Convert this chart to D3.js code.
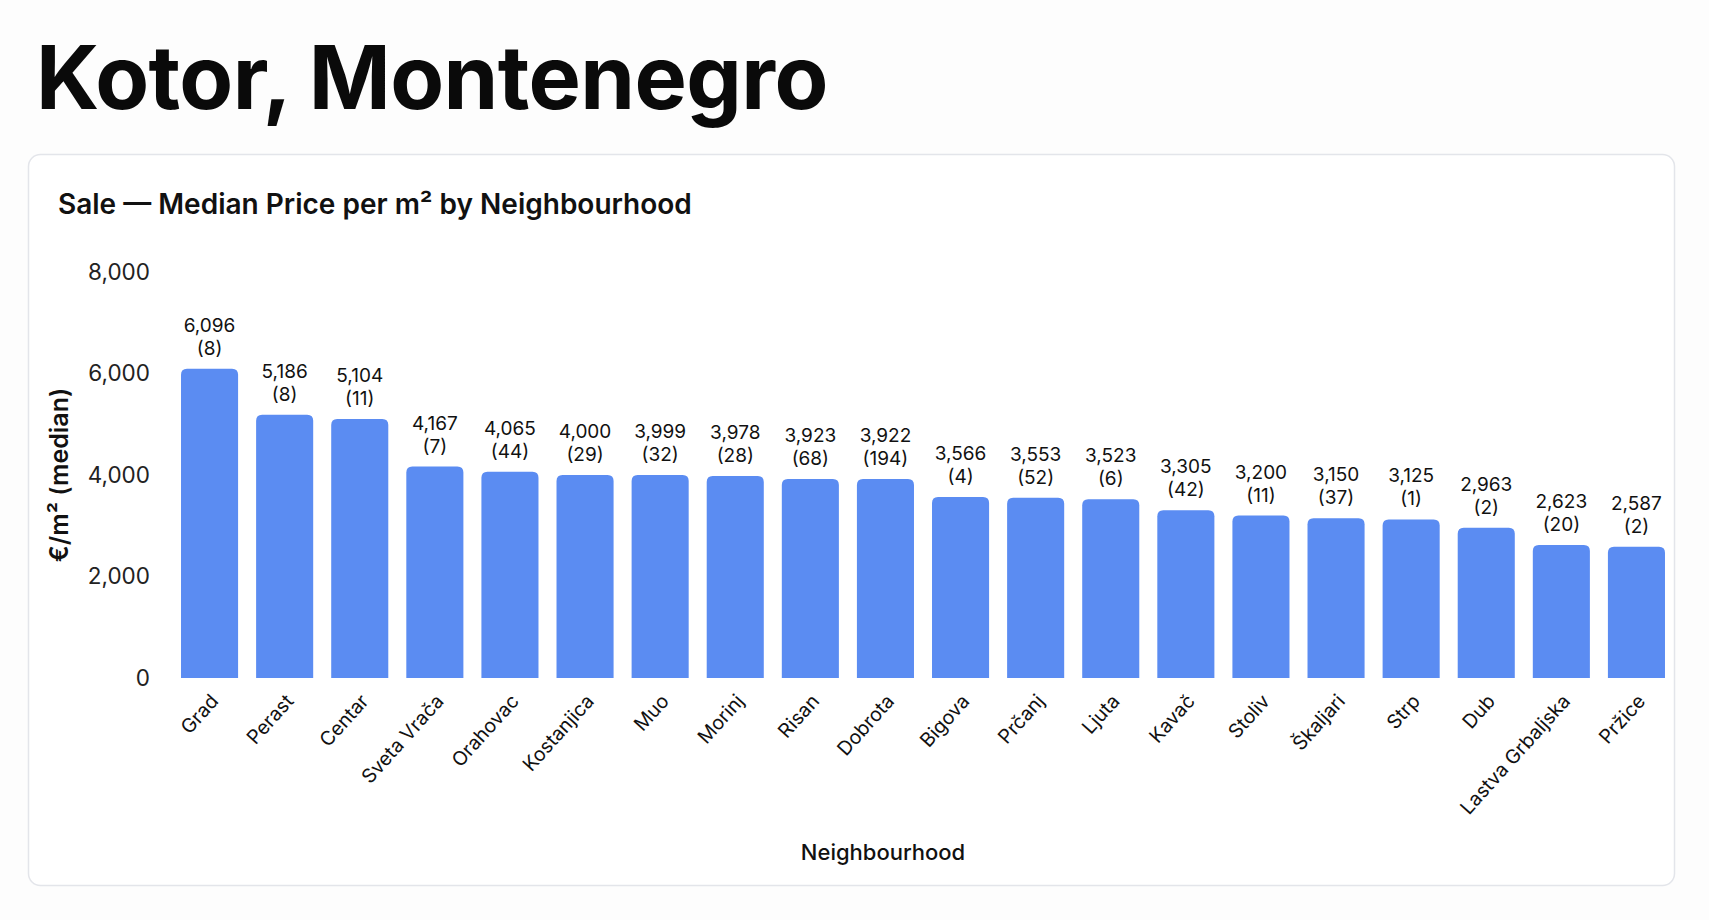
<!DOCTYPE html>
<html>
<head>
<meta charset="utf-8">
<script src="https://cdn.jsdelivr.net/npm/d3@7"></script>
<style>
  html, body { margin: 0; padding: 0; background: #fdfdfd; }
  body { width: 1709px; height: 920px; overflow: hidden; font-family: Inter, "Noto Sans", sans-serif; }
  svg { display: block; }
</style>
</head>
<body>
<svg id="chart" width="1709" height="920"></svg>
<script>
// Neighbourhoods, median sale price per m2 and listing counts
const neighbourhoods = ["Grad", "Perast", "Centar", "Sveta Vrača", "Orahovac", "Kostanjica", "Muo", "Morinj", "Risan", "Dobrota",
    "Bigova", "Prčanj", "Ljuta", "Kavač", "Stoliv", "Škaljari", "Strp", "Dub", "Lastva Grbaljska", "Pržice"];
const medianPrice = [6096, 5186, 5104, 4167, 4065, 4000, 3999, 3978, 3923, 3922,
    3566, 3553, 3523, 3305, 3200, 3150, 3125, 2963, 2623, 2587];
const listingCount = [8, 8, 11, 7, 44, 29, 32, 28, 68, 194,
    4, 52, 6, 42, 11, 37, 1, 2, 20, 2];
const yTicks = [0, 2000, 4000, 6000, 8000];

const svg = d3.select("#chart");
const fmt = d3.format(",");

// page title
svg.append("text")
    .attr("x", 36)
    .attr("y", 109)
    .attr("font-size", 88)
    .attr("font-weight", 700)
    .attr("letter-spacing", -0.6)
    .attr("fill", "#0a0a0a")
    .text("Kotor, Montenegro");

// card
svg.append("rect")
    .attr("x", 28.5).attr("y", 154.5)
    .attr("width", 1646).attr("height", 731)
    .attr("rx", 12)
    .attr("fill", "#ffffff")
    .attr("stroke", "#e3e5ea")
    .attr("stroke-width", 1.5);

svg.append("text")
    .attr("x", 58)
    .attr("y", 214)
    .attr("font-size", 28)
    .attr("font-weight", 600)
    .attr("fill", "#111")
    .text("Sale — Median Price per m² by Neighbourhood");

const x = d3.scaleBand()
    .domain(neighbourhoods)
    .range([172, 1674])
    .paddingInner(0.24)
    .paddingOuter(0.12);

const y = d3.scaleLinear()
    .domain([0, 8000])
    .range([678, 272]);

// y axis (labels only)
const yAxis = svg.append("g")
    .attr("transform", "translate(150,0)")
    .call(d3.axisLeft(y).tickValues(yTicks).tickSize(0).tickPadding(0).tickFormat(fmt));
yAxis.select(".domain").remove();
yAxis.selectAll("text")
    .attr("font-family", "Inter, sans-serif")
    .attr("font-size", 22.5)
    .attr("fill", "#222");

svg.append("text")
    .attr("transform", `translate(68,${(y(0) + y(8000)) / 2}) rotate(-90)`)
    .attr("text-anchor", "middle")
    .attr("font-size", 25)
    .attr("font-weight", 600)
    .attr("fill", "#111")
    .text("€/m² (median)");

// bars with rounded tops
const r = 6;
function barPath(d, i) {
    const x0 = x(d), w = x.bandwidth();
    const y0 = y(medianPrice[i]), y1 = y(0);
    return `M${x0},${y1}V${y0 + r}Q${x0},${y0} ${x0 + r},${y0}H${x0 + w - r}Q${x0 + w},${y0} ${x0 + w},${y0 + r}V${y1}Z`;
}

svg.append("g")
    .selectAll("path")
    .data(neighbourhoods)
    .join("path")
    .attr("d", barPath)
    .attr("fill", "#5b8cf2");

// value labels
const labels = svg.append("g")
    .selectAll("text")
    .data(neighbourhoods)
    .join("text")
    .attr("text-anchor", "middle")
    .attr("font-size", 19)
    .attr("fill", "#111")
    .attr("x", d => x(d) + x.bandwidth() / 2)
    .attr("y", (d, i) => y(medianPrice[i]) - 37);
labels.append("tspan")
    .text((d, i) => fmt(medianPrice[i]));
labels.append("tspan")
    .attr("x", d => x(d) + x.bandwidth() / 2)
    .attr("dy", 23)
    .text((d, i) => `(${listingCount[i]})`);

// x axis labels, rotated
const xAxis = svg.append("g")
    .attr("transform", `translate(0,${y(0)})`)
    .call(d3.axisBottom(x).tickSize(0).tickPadding(0));
xAxis.select(".domain").remove();
xAxis.selectAll("text")
    .attr("font-family", "Inter, sans-serif")
    .attr("font-size", 19.5)
    .attr("fill", "#111")
    .attr("text-anchor", "end")
    .attr("dy", null)
    .attr("transform", "translate(10,24) rotate(-48)");

svg.append("text")
    .attr("x", 883)
    .attr("y", 860)
    .attr("text-anchor", "middle")
    .attr("font-size", 22)
    .attr("font-weight", 500)
    .attr("fill", "#111")
    .text("Neighbourhood");
</script>
</body>
</html>
